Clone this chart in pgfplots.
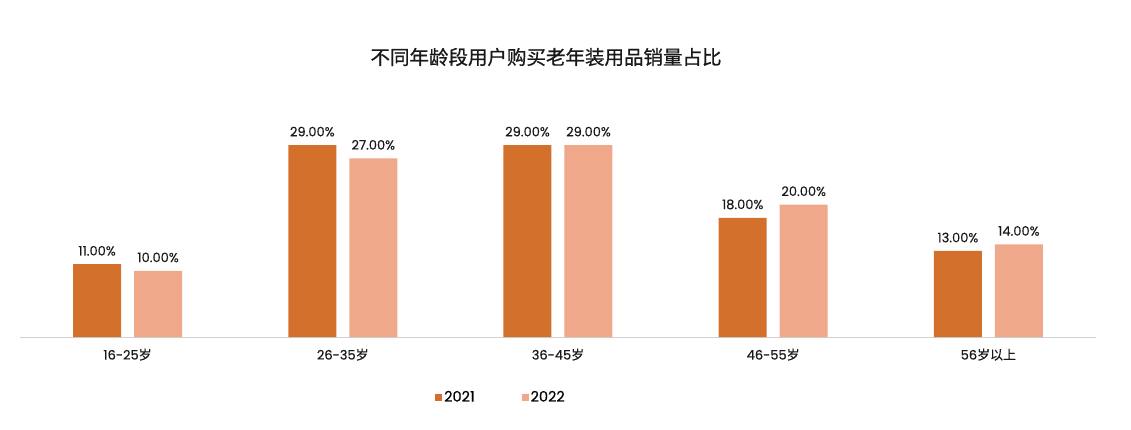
\documentclass[border=0pt]{standalone}
\usepackage{pgfplots}
\pgfplotsset{compat=1.18}
\usepackage{fontspec}
\setmainfont{Poppins}[FakeBold=0.35]
\newfontfamily\cjk{Noto Sans CJK SC}[FakeBold=0.35]
\newfontfamily\cjkt{Noto Sans CJK SC}[FakeBold=0.7]
\definecolor{c21}{HTML}{D2702C}
\definecolor{c22}{HTML}{F0A88B}
\begin{document}
\begin{tikzpicture}[x=1pt,y=1pt]
\path[use as bounding box] (-20,-92) rectangle (1111,337);
\node[font=\fontsize{19.5}{22}\selectfont\cjkt, text=black!90] at (526,280) {不同年龄段用户购买老年装用品销量占比};
\begin{axis}[
  at={(0,0)}, anchor=south west,
  scale only axis, width=1076pt, height=231.7pt,
  xmin=-0.5, xmax=4.5, ymin=0, ymax=35,
  ybar, bar width=48pt,
  axis y line=none,
  axis x line*=bottom,
  x axis line style={draw=black!18, line width=1pt, -},
  xtick=data,
  xticklabels={16-25{\cjk 岁},26-35{\cjk 岁},36-45{\cjk 岁},46-55{\cjk 岁},56{\cjk 岁以上}},
  major tick length=0pt,
  xticklabel style={font=\fontsize{13}{15}\selectfont, yshift=-8pt, text=black!90},
  /pgf/number format/assume math mode=true,
  nodes near coords={\pgfmathprintnumber[fixed,fixed zerofill,precision=2]{\pgfplotspointmeta}\%},
  every node near coord/.append style={font=\fontsize{13}{15}\selectfont, yshift=5pt, text=black!90},
  legend style={at={(0.447,-0.259)}, anchor=center, draw=none, legend columns=2,
    font=\fontsize{14.5}{16}\selectfont,
    /tikz/every even column/.append style={column sep=45pt}},
  legend image code/.code={\fill[#1] (0pt,-3.5pt) rectangle (7pt,3.5pt);},
]
\addplot[fill=c21, draw=none, bar shift=-30.5pt] coordinates {(0,11) (1,29) (2,29) (3,18) (4,13)};
\addplot[fill=c22, draw=none, bar shift=30.5pt] coordinates {(0,10) (1,27) (2,29) (3,20) (4,14)};
\legend{2021,2022}
\end{axis}
\end{tikzpicture}
\end{document}
